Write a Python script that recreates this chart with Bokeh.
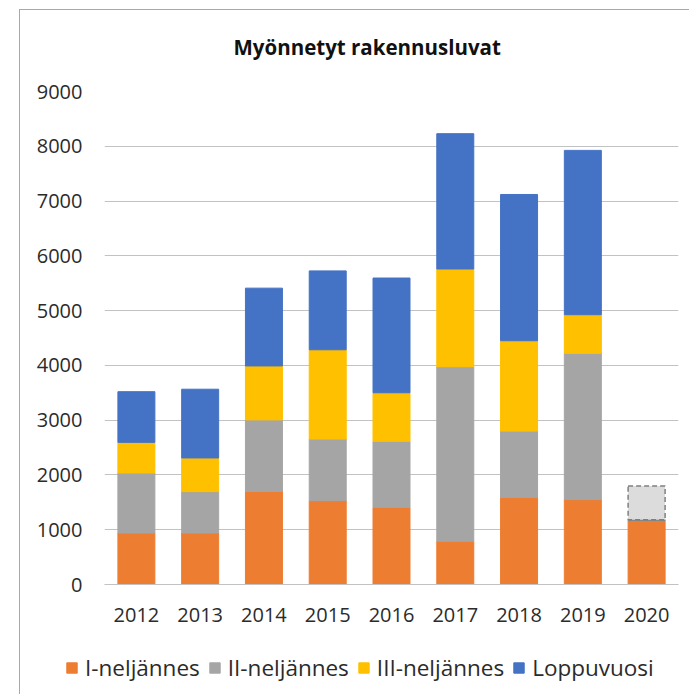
from bokeh.plotting import figure
from bokeh.layouts import column
from bokeh.models import Range1d, FixedTicker, Legend, LegendItem, ColumnDataSource, Label
from bokeh.embed import file_html
from bokeh.resources import INLINE

title_text = "Myönnetyt rakennusluvat"
years = ["2012", "2013", "2014", "2015", "2016", "2017", "2018", "2019", "2020"]
q1 = [940, 940, 1700, 1530, 1410, 790, 1590, 1550, 1180]
q2 = [1095, 755, 1305, 1125, 1205, 3185, 1210, 2670, 0]
q3 = [560, 615, 985, 1630, 885, 1785, 1650, 705, 0]
rest = [925, 1255, 1420, 1440, 2095, 2470, 2670, 3000, 0]
series_names = ["I-neljännes", "II-neljännes", "III-neljännes", "Loppuvuosi"]
colors = ["#ED7D31", "#A5A5A5", "#FFC000", "#4472C4"]
est_years = ["2020"]
est_bottom = [1180]
est_top = [1800]
y_ticks = [0, 1000, 2000, 3000, 4000, 5000, 6000, 7000, 8000, 9000]

FONT = "Open Sans"
TXT = "#2b2b2b"
GRID = "#c2c2c2"
stackers = ["q1", "q2", "q3", "rest"]
W = 669

src = ColumnDataSource(dict(year=years, q1=q1, q2=q2, q3=q3, rest=rest))


def strip(height, **kw):
    f = figure(width=W, height=height, output_backend="svg", toolbar_location=None,
               x_axis_type=None, y_axis_type=None, title=None, min_border=0,
               min_border_left=0, min_border_right=0, min_border_top=0,
               min_border_bottom=0, **kw)
    f.frame_align = False
    f.outline_line_color = None
    f.grid.grid_line_color = None
    return f


# title strip
pt = strip(66, x_range=Range1d(0, W), y_range=Range1d(0, 66))
pt.add_layout(Label(x=213, y=30, text=title_text, text_font=FONT,
                    text_font_size="20.5px", text_font_style="bold",
                    text_color="#111111", text_align="left",
                    text_baseline="alphabetic"))

# main chart
p = figure(width=W, height=558, x_range=years, y_range=Range1d(0, 9000),
           output_backend="svg", toolbar_location=None, title=None,
           min_border_left=84, min_border_right=11, min_border_top=15, min_border_bottom=50)
p.frame_align = False

p.vbar_stack(stackers, x="year", width=0.58, source=src, color=colors)

p.vbar(x=est_years, bottom=est_bottom, top=est_top, width=0.58,
       fill_color="#DCDCDC", line_color="#808080", line_width=1.5, line_dash="5 3")

p.outline_line_color = None
p.xgrid.grid_line_color = None
p.ygrid.grid_line_color = GRID
p.ygrid.grid_line_width = 1.2
p.yaxis.ticker = FixedTicker(ticks=y_ticks)
p.yaxis.axis_line_color = None
p.yaxis.major_tick_line_color = None
p.yaxis.minor_tick_line_color = None
p.yaxis.major_tick_out = 0
p.yaxis.major_label_standoff = 22
p.xaxis.axis_line_color = GRID
p.xaxis.axis_line_width = 1.2
p.xaxis.major_tick_line_color = None
p.xaxis.major_tick_out = 0
p.xaxis.major_label_standoff = 23
for ax in (p.xaxis, p.yaxis):
    ax.major_label_text_font = FONT
    ax.major_label_text_font_size = "20px"
    ax.major_label_text_color = TXT

# legend strip (separate figure so the legend can sit freely below the axis)
pl = strip(60, x_range=years, y_range=Range1d(0, 1))
lrs = pl.vbar_stack(stackers, x="year", width=0.58, source=src, color=colors, visible=False)
items = [LegendItem(label=n, renderers=[r]) for n, r in zip(series_names, lrs)]
legend = Legend(items=items, location=(45, 11), orientation="horizontal",
                glyph_width=13, glyph_height=13, label_standoff=7, spacing=8,
                padding=0, margin=0, border_line_color=None, background_fill_alpha=0,
                inactive_fill_alpha=0,
                label_text_font=FONT, label_text_font_size="22.5px", label_text_color=TXT)
pl.add_layout(legend)

layout = column(pt, p, pl, spacing=0)
layout.margin = (9, 0, 0, 19)
layout.styles = {"border-left": "1px solid #a8a8a8", "border-top": "1px solid #a8a8a8"}

open("out.html", "w").write(file_html(layout, INLINE))
